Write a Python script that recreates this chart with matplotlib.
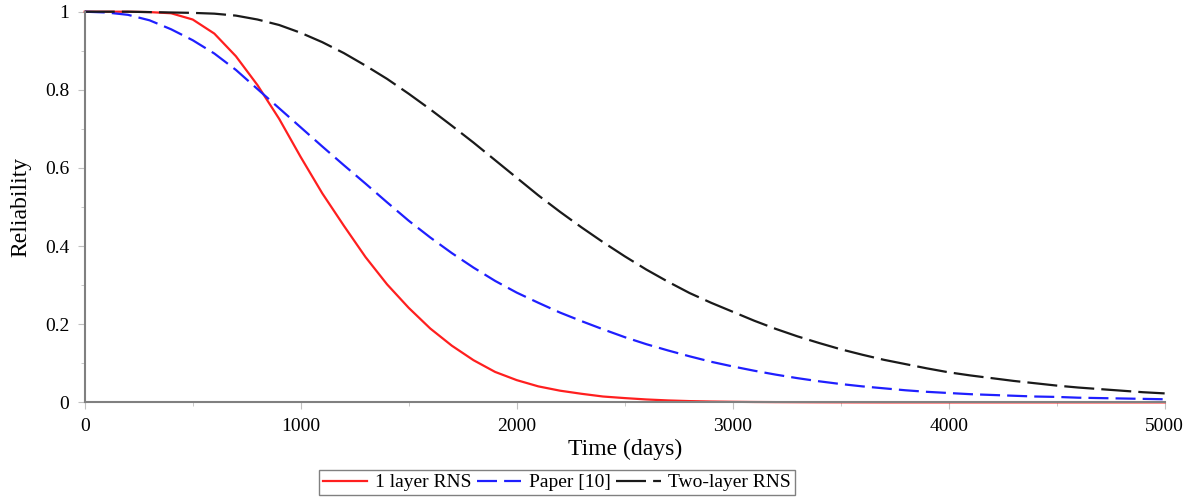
import numpy as np
import matplotlib.pyplot as plt

# time grid (days) and reliability
days = np.arange(0, 5001, 100)

one_layer = [1.0, 1.0, 1.0, 0.999, 0.996, 0.98, 0.944, 0.886, 0.812, 0.726,
             0.628, 0.535, 0.452, 0.372, 0.302, 0.242, 0.189, 0.145, 0.108, 0.078,
             0.057, 0.041, 0.030, 0.022, 0.015, 0.011, 0.0075, 0.005, 0.0033, 0.0022,
             0.0015, 0.001, 0.0007, 0.0005, 0.0003, 0.0002, 0.0001, 0.0, 0.0, 0.0,
             0.0, 0.0, 0.0, 0.0, 0.0, 0.0, 0.0, 0.0, 0.0, 0.0,
             0.0]

paper10 = [1.0, 0.998, 0.992, 0.978, 0.955, 0.927, 0.893, 0.851, 0.802, 0.753,
           0.704, 0.655, 0.607, 0.56, 0.512, 0.465, 0.422, 0.382, 0.345, 0.311,
           0.281, 0.255, 0.23, 0.208, 0.187, 0.167, 0.149, 0.133, 0.118, 0.104,
           0.092, 0.081, 0.071, 0.062, 0.054, 0.047, 0.041, 0.036, 0.031, 0.027,
           0.024, 0.021, 0.019, 0.017, 0.015, 0.014, 0.012, 0.011, 0.010, 0.009,
           0.008]

two_layer = [1.0, 1.0, 1.0, 0.999, 0.998, 0.997, 0.995, 0.99, 0.98, 0.966,
             0.946, 0.922, 0.894, 0.862, 0.828, 0.79, 0.75, 0.708, 0.665, 0.62,
             0.575, 0.53, 0.488, 0.448, 0.41, 0.374, 0.34, 0.309, 0.28, 0.255,
             0.232, 0.209, 0.188, 0.169, 0.152, 0.136, 0.122, 0.109, 0.098, 0.087,
             0.077, 0.069, 0.062, 0.055, 0.049, 0.043, 0.038, 0.034, 0.030, 0.026,
             0.023]

plt.rcParams['font.family'] = ['Liberation Serif', 'DejaVu Serif']

fig = plt.figure(figsize=(11.95, 4.98), dpi=100)
ax = fig.add_axes([0.0709, 0.192, 0.9037, 0.7845])

ax.plot(days, one_layer, color='#ff1f1f', lw=1.6, label='1 layer RNS', clip_on=False)
ax.plot(days, paper10, color='#1f1fff', lw=1.6, dashes=(9, 3.2), label='Paper [10]', clip_on=False)
ax.plot(days, two_layer, color='#1a1a1a', lw=1.6, dashes=(13.5, 3.2), label='Two-layer RNS', clip_on=False)

ax.set_xlim(0, 5000)
ax.set_ylim(0, 1)
ax.set_xticks([0, 1000, 2000, 3000, 4000, 5000])
ax.set_xticks(np.arange(500, 5000, 1000), minor=True)
ax.set_yticks([0, 0.2, 0.4, 0.6, 0.8, 1])
ax.set_yticklabels(['0', '0.2', '0.4', '0.6', '0.8', '1'])
ax.set_yticks(np.arange(0.1, 1.0, 0.2), minor=True)

for side in ['top', 'right']:
    ax.spines[side].set_visible(False)
for side in ['left', 'bottom']:
    ax.spines[side].set_color('#808080')
    ax.spines[side].set_linewidth(1.5)

ax.tick_params(which='major', length=5, color='#c0c0c0', labelsize=14, pad=6)
ax.tick_params(which='minor', length=3, color='#c0c0c0')

ax.set_xlabel('Time (days)', fontsize=17, labelpad=3)
ax.set_ylabel('Reliability', fontsize=17, labelpad=10)

fig.legend(loc='center', bbox_to_anchor=(0.466, 0.031), ncol=3, fontsize=14,
           frameon=True, fancybox=False, edgecolor='#606060', handlelength=2.3,
           handletextpad=0.4, columnspacing=0.25, borderpad=0.2, borderaxespad=0)

fig.savefig('out.png', dpi=100)
